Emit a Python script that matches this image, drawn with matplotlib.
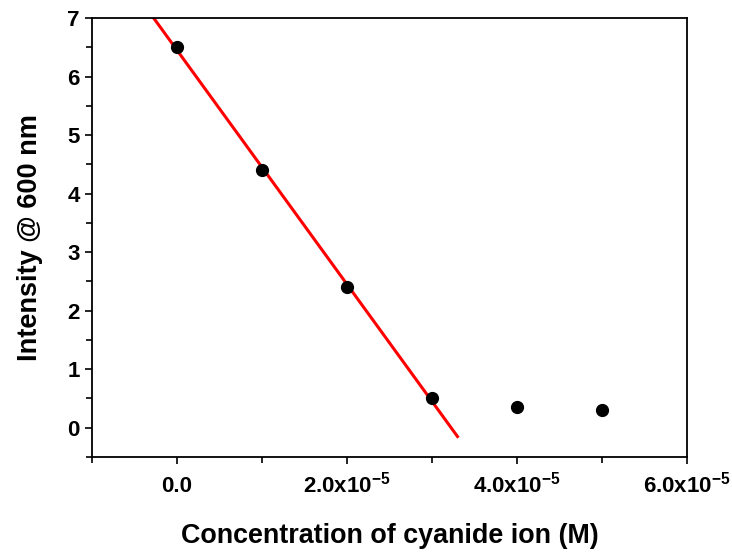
import numpy as np
import matplotlib
matplotlib.use("Agg")
import matplotlib.pyplot as plt
from matplotlib.ticker import MultipleLocator, FuncFormatter

plt.rcParams['font.family'] = ['Liberation Sans', 'DejaVu Sans']
plt.rcParams['font.weight'] = 'bold'
plt.rcParams['mathtext.fontset'] = 'custom'
plt.rcParams['mathtext.rm'] = 'Liberation Sans:bold'
plt.rcParams['mathtext.it'] = 'Liberation Sans:bold'
plt.rcParams['mathtext.bf'] = 'Liberation Sans:bold'
plt.rcParams['axes.unicode_minus'] = False

# cyanide concentration (M) and emission intensity
conc = [0.0, 1e-5, 2e-5, 3e-5, 4e-5, 5e-5]
intensity = [6.5, 4.4, 2.4, 0.5, 0.35, 0.3]
n_fit = 4  # linear region used for the fit

slope, icpt = np.polyfit(conc[:n_fit], intensity[:n_fit], 1)
xfit = np.array([-0.3e-5, 3.3e-5])

fig = plt.figure(figsize=(7.32, 5.52), dpi=100)
ax = fig.add_axes([0.1257, 0.1721, 0.8128, 0.7953])

ax.plot(xfit, slope * xfit + icpt, color='red', lw=2.2, zorder=2)
ax.plot(conc, intensity, 'o', color='black', ms=8.5, zorder=3)

ax.set_xlim(-1e-5, 6e-5)
ax.set_ylim(-0.5, 7)
ax.xaxis.set_major_locator(MultipleLocator(2e-5))
ax.xaxis.set_minor_locator(MultipleLocator(1e-5))
ax.yaxis.set_major_locator(MultipleLocator(1))
ax.yaxis.set_minor_locator(MultipleLocator(0.5))


def xfmt(v, pos):
    if abs(v) < 1e-12:
        return '0.0'
    return '%.1fx10$^{-5}$' % (v / 1e-5)


ax.xaxis.set_major_formatter(FuncFormatter(xfmt))
ax.yaxis.set_major_formatter(FuncFormatter(lambda v, p: '%d' % v))

for s in ax.spines.values():
    s.set_linewidth(1.3)
ax.tick_params(which='both', direction='out', width=1.2, labelsize=16)
ax.tick_params(which='major', length=5)
ax.tick_params(which='minor', length=4)
ax.tick_params(axis='x', pad=20.5)
ax.tick_params(axis='y', pad=4)
fig.canvas.draw()
for lab in ax.get_xticklabels():
    lab.set_verticalalignment('baseline')

ax.set_xlabel('Concentration of cyanide ion (M)', fontsize=19.4, fontweight='bold', labelpad=18.5)
ax.set_ylabel('Intensity @ 600 nm', fontsize=19.5, fontweight='bold', labelpad=17)

fig.savefig('out.png', dpi=100)
